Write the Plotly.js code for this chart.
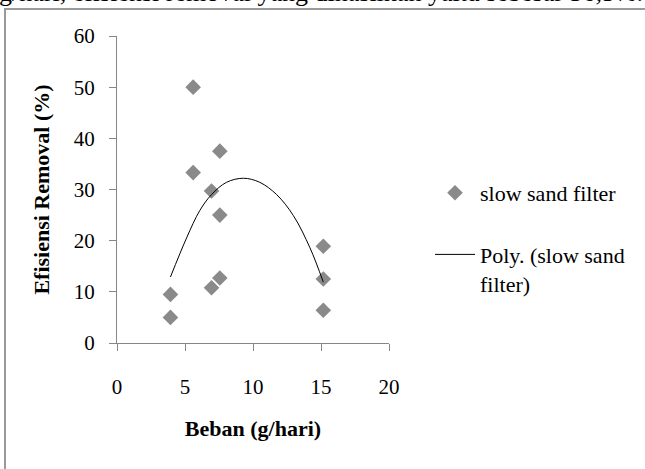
<!DOCTYPE html>
<html>
<head>
<meta charset="utf-8">
<script src="https://cdn.plot.ly/plotly-3.0.1.min.js"></script>
<style>
  html, body { margin: 0; padding: 0; background: #fff; }
  #chart { width: 645px; height: 469px; }
</style>
</head>
<body>
<div id="chart"></div>
<script>
// Data
const beban = [3.93, 3.93, 5.6, 5.6, 6.95, 6.95, 7.56, 7.56, 7.56, 15.17, 15.17, 15.17];
const efisiensi = [9.5, 5.0, 50.0, 33.3, 29.7, 10.8, 37.5, 25.0, 12.7, 18.9, 12.5, 6.4];
// Polynomial trendline as drawn in the reference
const trendBeban = [3.93, 5.11, 6.09, 6.95, 8.05, 9.3, 10.5, 11.74, 12.97, 14.19, 15.17];
const trendEfisiensi = [12.9, 20.5, 25.9, 29.0, 31.4, 32.2, 31.4, 29.0, 24.9, 18.6, 11.9];
const xTicks = [0, 5, 10, 15, 20];
const yTicks = [0, 10, 20, 30, 40, 50, 60];
const seriesName = 'slow sand filter';
const trendName = 'Poly. (slow sand<br>filter)';
const xTitle = 'Beban (g/hari)';
const yTitle = 'Efisiensi Removal (%)';
const topText = 'g/hari, efisiensi removal yang dihasilkan yaitu sebesar 56,5%.';

const FONT = 'Liberation Serif';
const AXIS_GRAY = '#868686';

const traces = [
  {
    x: beban, y: efisiensi, type: 'scatter', mode: 'markers', name: seriesName,
    legendgroup: 'a',
    marker: { symbol: 'diamond', size: 12, color: '#8a8a8a', line: { width: 0 } },
    cliponaxis: false
  },
  {
    x: trendBeban, y: trendEfisiensi, type: 'scatter', mode: 'lines', name: trendName,
    legendgroup: 'b',
    line: { color: '#000000', width: 1, shape: 'spline', smoothing: 1 },
    hoverinfo: 'skip'
  }
];

const L = 117, R = 256, T = 36, B = 126;
const W = 645, H = 469;
const pw = W - L - R, ph = H - T - B;
const px = v => (v - L) / pw;          // pixel x -> paper
const py = v => (H - B - v) / ph;      // pixel y -> paper

const layout = {
  width: W, height: H,
  margin: { l: L, r: R, t: T, b: B, pad: 0 },
  paper_bgcolor: '#ffffff', plot_bgcolor: '#ffffff',
  font: { family: FONT, color: '#000000', size: 21 },
  showlegend: true,
  legend: {
    x: px(430), y: py(172), xanchor: 'left', yanchor: 'top',
    bgcolor: 'rgba(0,0,0,0)', borderwidth: 0,
    font: { family: FONT, size: 22, color: '#000000' },
    traceorder: 'grouped', tracegroupgap: 30, valign: 'top',
    itemwidth: 40
  },
  xaxis: {
    range: [0, 20], tickvals: xTicks, ticktext: xTicks.map(String),
    showgrid: false, zeroline: false, showline: true, linecolor: AXIS_GRAY, linewidth: 1,
    ticks: 'outside', ticklen: 7, tickcolor: AXIS_GRAY, tickwidth: 1,
    tickfont: { family: FONT, size: 21, color: '#000000' },
    ticklabelstandoff: 18,
    fixedrange: true,
    title: { text: '<b>' + xTitle + '</b>', font: { family: FONT, size: 22, color: '#000000' }, standoff: 22 },
    automargin: false
  },
  yaxis: {
    range: [0, 60], tickvals: yTicks, ticktext: yTicks.map(String),
    showgrid: false, zeroline: false, showline: true, linecolor: AXIS_GRAY, linewidth: 1,
    ticks: 'outside', ticklen: 7, tickcolor: AXIS_GRAY, tickwidth: 1,
    tickfont: { family: FONT, size: 21, color: '#000000' },
    ticklabelstandoff: 10,
    fixedrange: true,
    title: { text: '<b>' + yTitle + '</b>', font: { family: FONT, size: 22, color: '#000000' }, standoff: 18 },
    automargin: false
  },
  shapes: [
    {
      type: 'rect', xref: 'paper', yref: 'paper', layer: 'below',
      x0: px(5), x1: px(700), y0: py(9), y1: py(520),
      line: { color: '#9a9a9a', width: 2 }, fillcolor: 'rgba(0,0,0,0)'
    }
  ],
  annotations: [
    {
      text: topText, xref: 'paper', yref: 'paper',
      x: px(-3), y: py(9.5), xanchor: 'left', yanchor: 'bottom',
      showarrow: false, font: { family: FONT, size: 26, color: '#000000' }
    }
  ]
};

Plotly.newPlot('chart', traces, layout, { displayModeBar: false, staticPlot: true });
</script>
</body>
</html>
